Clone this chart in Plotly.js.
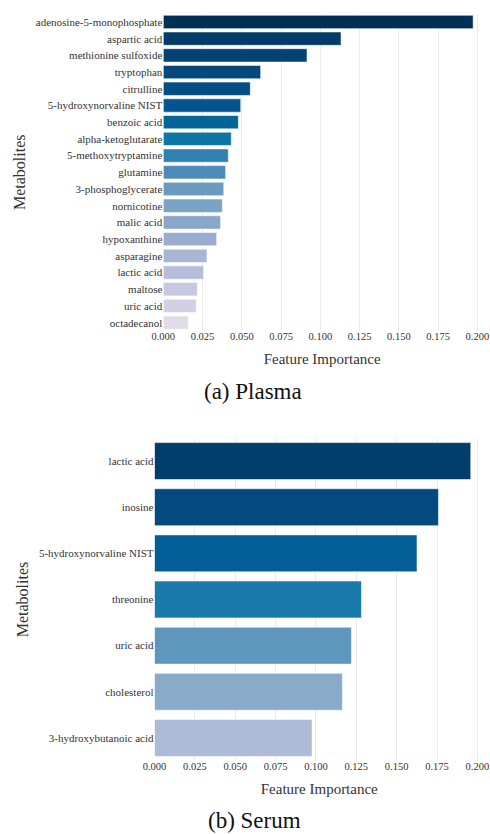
<!DOCTYPE html>
<html>
<head>
<meta charset="utf-8">
<script src="https://cdn.plot.ly/plotly-3.0.1.min.js"></script>
<style>
  html, body { margin: 0; padding: 0; background: #fff; }
  #chart { width: 490px; height: 834px; }
</style>
</head>
<body>
<div id="chart"></div>
<script>
// Plasma: metabolites ranked by feature importance
const plasmaMetabolites = [
  'adenosine-5-monophosphate', 'aspartic acid', 'methionine sulfoxide', 'tryptophan',
  'citrulline', '5-hydroxynorvaline NIST', 'benzoic acid', 'alpha-ketoglutarate',
  '5-methoxytryptamine', 'glutamine', '3-phosphoglycerate', 'nornicotine',
  'malic acid', 'hypoxanthine', 'asparagine', 'lactic acid', 'maltose',
  'uric acid', 'octadecanol'
];
const plasmaImportance = [
  0.1973, 0.1132, 0.0915, 0.0620, 0.0554, 0.0493, 0.0478, 0.0433, 0.0414,
  0.0397, 0.0385, 0.0376, 0.0365, 0.0340, 0.0278, 0.0257, 0.0217, 0.0210, 0.0159
];
const plasmaColors = [
  '#022f55', '#023d69', '#034374', '#03497e', '#034d85', '#04548f', '#056498',
  '#0d76a6', '#2f82b0', '#4e8bb8', '#6a9bbf', '#7aa2c5', '#88a7c8', '#9aacd0',
  '#a9b5d5', '#b7bcd9', '#c5c8e0', '#d3d0e6', '#e2dcea'
];

// Serum: metabolites ranked by feature importance
const serumMetabolites = [
  'lactic acid', 'inosine', '5-hydroxynorvaline NIST', 'threonine',
  'uric acid', 'cholesterol', '3-hydroxybutanoic acid'
];
const serumImportance = [0.1959, 0.1759, 0.1626, 0.1282, 0.1220, 0.1164, 0.0976];
const serumColors = ['#023e6b', '#024a80', '#035d97', '#1a7aab', '#5e97bd', '#89abc9', '#adbbd8'];

const xTicks = [0, 0.025, 0.05, 0.075, 0.1, 0.125, 0.15, 0.175, 0.2];
const xTickText = ['0.000', '0.025', '0.050', '0.075', '0.100', '0.125', '0.150', '0.175', '0.200'];

const W = 490, H = 834;
const serif = '"Liberation Serif", "Times New Roman", serif';
const textColor = '#333333';

const traces = [
  {
    type: 'bar', orientation: 'h',
    x: plasmaImportance, y: plasmaMetabolites,
    xaxis: 'x', yaxis: 'y',
    marker: { color: plasmaColors, line: { color: 'rgba(255,255,255,0.55)', width: 1 } },
    hoverinfo: 'x+y', showlegend: false
  },
  {
    type: 'bar', orientation: 'h',
    x: serumImportance, y: serumMetabolites,
    xaxis: 'x2', yaxis: 'y2',
    marker: { color: serumColors, line: { color: 'rgba(255,255,255,0.55)', width: 1 } },
    hoverinfo: 'x+y', showlegend: false
  }
];

function xAxis(domain, range, anchor) {
  return {
    domain: domain, range: range, anchor: anchor,
    tickmode: 'array', tickvals: xTicks, ticktext: xTickText,
    ticks: '', showline: false, zeroline: false,
    showgrid: true, gridcolor: '#ebebeb', gridwidth: 1,
    ticklabeloverflow: 'allow', ticklabelstandoff: -3,
    tickfont: { family: serif, size: 10.5, color: textColor },
    title: { text: 'Feature Importance', font: { family: serif, size: 15, color: textColor }, standoff: 12 },
    automargin: false, fixedrange: true
  };
}
function yAxis(domain, anchor) {
  return {
    domain: domain, anchor: anchor, type: 'category', autorange: 'reversed',
    ticks: '', showline: false, showgrid: false, zeroline: false,
    tickfont: { family: serif, size: 11, color: textColor },
    title: { text: 'Metabolites', font: { family: serif, size: 16, color: textColor }, standoff: 6 },
    automargin: false, fixedrange: true
  };
}

const layout = {
  width: W, height: H,
  margin: { l: 0, r: 0, t: 0, b: 0 },
  paper_bgcolor: '#ffffff', plot_bgcolor: '#ffffff',
  bargap: 0.2,
  xaxis: xAxis([163.3 / W, 481 / W], [0, 0.2023], 'y'),
  yaxis: yAxis([1 - 331 / H, 1 - 13.6 / H], 'x'),
  xaxis2: xAxis([154.5 / W, 484 / W], [0, 0.2041], 'y2'),
  yaxis2: yAxis([1 - 761 / H, 1 - 438 / H], 'x2'),
  annotations: [
    { text: '(a) Plasma', xref: 'paper', yref: 'paper', x: 253 / W, y: 1 - 391 / H,
      xanchor: 'center', yanchor: 'middle', showarrow: false,
      font: { family: serif, size: 23, color: '#111111' } },
    { text: '(b) Serum', xref: 'paper', yref: 'paper', x: 254.5 / W, y: 0,
      xanchor: 'center', yanchor: 'bottom', showarrow: false, borderpad: 0,
      font: { family: serif, size: 23, color: '#111111' } }
  ]
};

Plotly.newPlot('chart', traces, layout, { displayModeBar: false, staticPlot: true });
</script>
</body>
</html>
